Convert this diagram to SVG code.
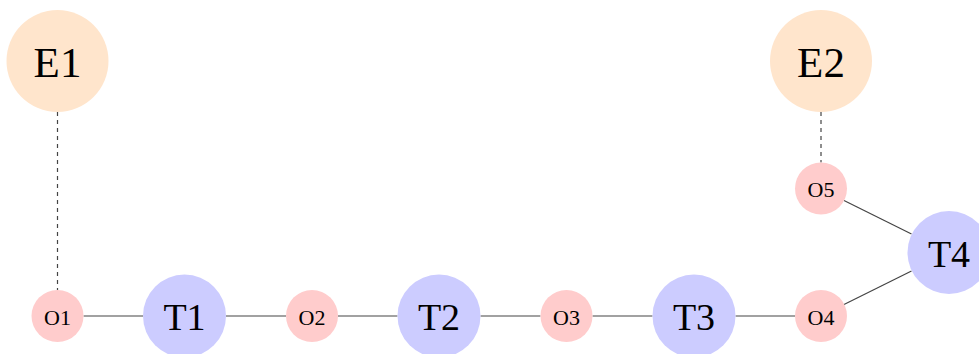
<svg xmlns="http://www.w3.org/2000/svg" width="979" height="354" viewBox="0 0 979 354">
<style>
.e{fill:#FFE5CC}
.t{fill:#CCCCFF}
.o{fill:#FFCCCC}
text{font-family:"Liberation Serif","DejaVu Serif",serif;fill:#000;text-anchor:middle;dominant-baseline:central}
.le{font-size:43px}
.lt{font-size:38px}
.lo{font-size:22px}
.s{stroke:#444;stroke-width:1.2;fill:none}
.d{stroke:#444;stroke-width:1.2;fill:none;stroke-dasharray:4 4}
</style>
<rect width="979" height="354" fill="#fff"/>
<g id="connectors">
<line class="d" x1="57.5" y1="112" x2="57.5" y2="290"/>
<line class="d" x1="821" y1="112" x2="821" y2="162.5"/>
<line class="s" x1="83.5" y1="316" x2="143" y2="316"/>
<line class="s" x1="226" y1="316" x2="286" y2="316"/>
<line class="s" x1="338" y1="316" x2="397.5" y2="316"/>
<line class="s" x1="480.5" y1="316" x2="540.5" y2="316"/>
<line class="s" x1="592.5" y1="316" x2="652.5" y2="316"/>
<line class="s" x1="735.5" y1="316" x2="795" y2="316"/>
<line class="s" x1="844" y1="304.5" x2="911.5" y2="271"/>
<line class="s" x1="844" y1="200.5" x2="911.5" y2="234"/>
</g>
<g id="E1"><circle class="e" cx="57.5" cy="61" r="51"/><text class="le" x="57.5" y="62">E1</text></g>
<g id="E2"><circle class="e" cx="821" cy="61" r="51"/><text class="le" x="821" y="62">E2</text></g>
<g id="O1"><circle class="o" cx="57.5" cy="316" r="26"/><text class="lo" x="57.5" y="317">O1</text></g>
<g id="T1"><circle class="t" cx="184.5" cy="316" r="41.5"/><text class="lt" x="184.5" y="317">T1</text></g>
<g id="O2"><circle class="o" cx="312" cy="316" r="26"/><text class="lo" x="312" y="317">O2</text></g>
<g id="T2"><circle class="t" cx="439" cy="316" r="41.5"/><text class="lt" x="439" y="317">T2</text></g>
<g id="O3"><circle class="o" cx="566.5" cy="316" r="26"/><text class="lo" x="566.5" y="317">O3</text></g>
<g id="T3"><circle class="t" cx="694" cy="316" r="41.5"/><text class="lt" x="694" y="317">T3</text></g>
<g id="O4"><circle class="o" cx="821" cy="316" r="26"/><text class="lo" x="821" y="317">O4</text></g>
<g id="O5"><circle class="o" cx="821" cy="188.5" r="26"/><text class="lo" x="821" y="189.5">O5</text></g>
<g id="T4"><circle class="t" cx="949" cy="252.5" r="41.5"/><text class="lt" x="949" y="253.5">T4</text></g>
</svg>
